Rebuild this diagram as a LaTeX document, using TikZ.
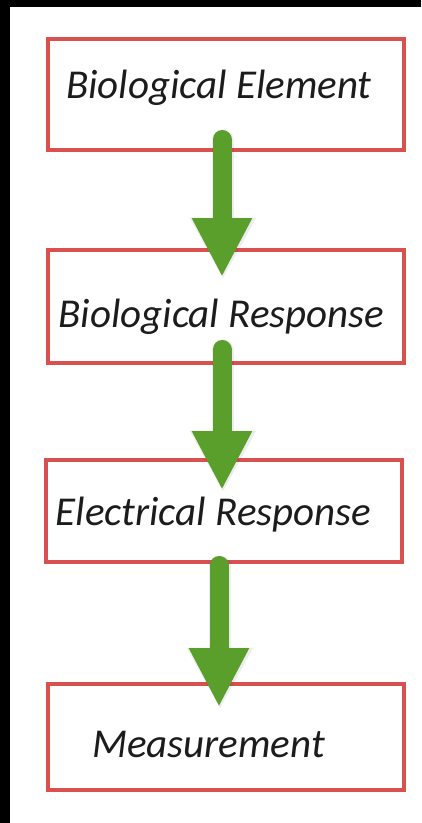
\documentclass[tikz,border=0pt]{standalone}
\usepackage{fontspec}
\setmainfont{Carlito}
\usetikzlibrary{calc,arrows.meta}
\definecolor{boxred}{HTML}{D9514E}
\definecolor{flowgreen}{HTML}{5A9E2B}
\definecolor{ink}{HTML}{1C1C1C}
\begin{document}
\begin{tikzpicture}[x=1pt,y=-1pt,
  stagebox/.style={draw=boxred, line width=4pt, fill=white, minimum width=356pt, inner sep=0pt},
  stagetext/.style={anchor=base, inner sep=0pt, text=ink, font=\fontsize{41}{49}\selectfont\itshape},
  flow/.style={draw=flowgreen, line width=19pt, line cap=round,
    -{Triangle[width=56pt,length=59pt,fill=flowgreen]}},
  flowshadow/.style={draw=black, opacity=0.07, line width=22pt, line cap=round,
    -{Triangle[width=62pt,length=62pt]}}]
  % frame: dark border along the top and left edges
  \fill[black] (0,0) rectangle (421,823);
  \fill[white] (10,7) rectangle (421,823);
  \useasboundingbox (0,0) rectangle (421,823);

  % stage boxes
  \node[stagebox, minimum height=111pt] (b1) at (226,94.5) {};
  \node[stagebox, minimum height=113pt] (b2) at (226,306.5) {};
  \node[stagebox, minimum height=102pt] (b3) at (224,511) {};
  \node[stagebox, minimum height=106pt] (b4) at (226,737) {};

  % stage labels
  \node[stagetext] (t1) at (219,98) {Biological Element};
  \node[stagetext] (t2) at (221.5,327) {Biological Response};
  \node[stagetext] (t3) at (213.5,525) {Electrical Response};
  \node[stagetext] (t4) at (208.5,757) {Measurement};

  % flow arrows between stages, each over a soft shadow
  \coordinate (a1s) at ($(b1.south)+(-4,-12.5)$);
  \coordinate (a1e) at ($(b2.north)+(-4,29)$);
  \coordinate (a2s) at ($(b2.south)+(-4,-15.5)$);
  \coordinate (a2e) at ($(b3.north)+(-2,32)$);
  \coordinate (a3s) at ($(b3.south)+(-5,1.5)$);
  \coordinate (a3e) at ($(b4.north)+(-7,25)$);
  \foreach \s/\e in {a1s/a1e, a2s/a2e, a3s/a3e} {
    \draw[flowshadow] ($(\s)+(1,1)$) -- ($(\e)+(1,2.5)$);
    \draw[flow] (\s) -- (\e);
  }
\end{tikzpicture}
\end{document}
